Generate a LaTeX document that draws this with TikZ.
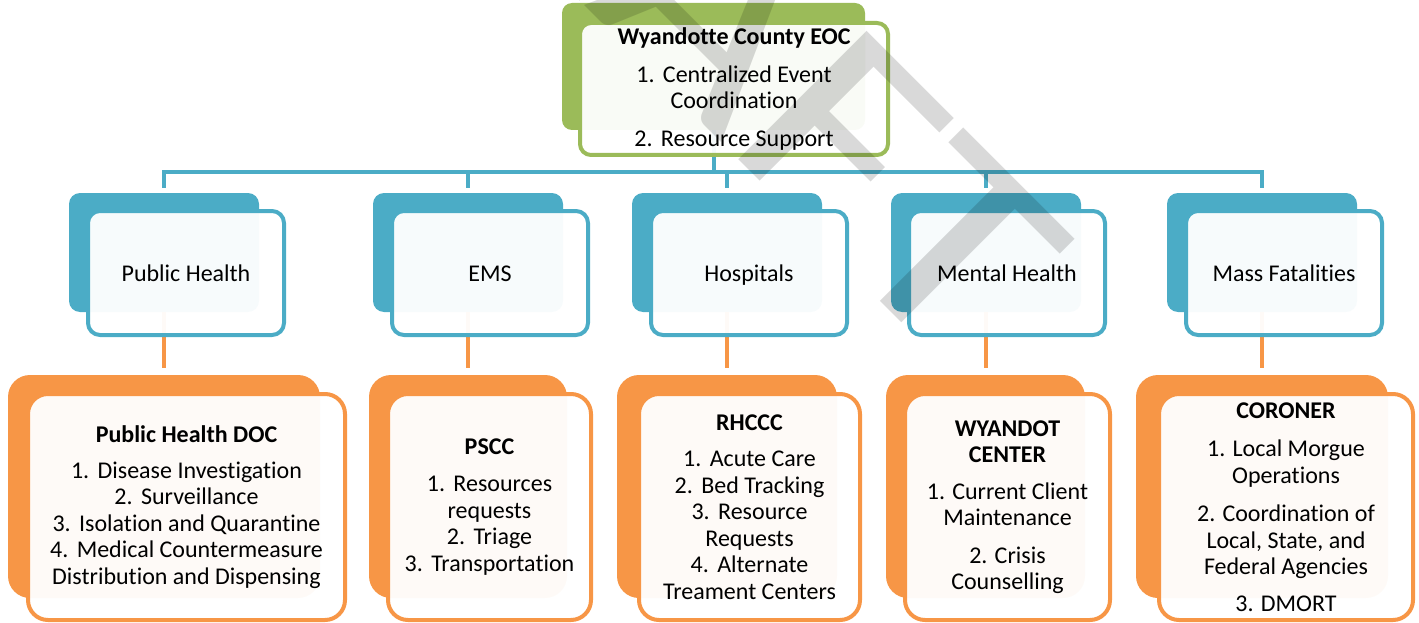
\documentclass[tikz,border=0pt]{standalone}
\usepackage{fontspec}
\setmainfont{Carlito}[Ligatures=NoCommon]
\definecolor{eocgreen}{HTML}{9BBB59}
\definecolor{aqua}{HTML}{4BACC6}
\definecolor{orng}{HTML}{F79646}
\newcommand\Lg{\hspace{0.35em}}
\begin{document}
\begin{tikzpicture}[x=1pt,y=-1pt,
  gback/.style={fill=eocgreen, rounded corners=10pt, minimum width=303pt, minimum height=127pt, inner sep=0pt},
  gfront/.style={draw=eocgreen, line width=4pt, fill=white, fill opacity=0.95, text opacity=1, rounded corners=11pt, minimum width=308pt, minimum height=132pt, inner sep=0pt},
  bback/.style={fill=aqua, rounded corners=11pt, minimum width=190pt, minimum height=119pt, inner sep=0pt},
  bfront/.style={draw=aqua, line width=4pt, fill=white, fill opacity=0.96, text opacity=1, rounded corners=12pt, minimum width=196pt, minimum height=124pt, inner sep=0pt, text height=19pt, text depth=3pt},
  oback/.style={fill=orng, rounded corners=22pt, minimum height=223pt, inner sep=0pt},
  ofront/.style={draw=orng, line width=4pt, fill=white, fill opacity=0.96, text opacity=1, rounded corners=20pt, minimum height=226pt, inner sep=0pt},
  txt/.style={align=center, font=\fontsize{24}{26.5}\selectfont, text=black},
  bconn/.style={draw=aqua, line width=4pt},
  oconn/.style={draw=orng, line width=4.5pt},
  wmark/.style={font=\fontsize{283}{283}\selectfont, text=black, text opacity=0.15, inner sep=0pt}
]
\useasboundingbox (0,0) rectangle (1419,623);

% back shapes
\node[gback] (g0) at (713.5,66.5) {};
\node[bback] (b1) at (164,252.5) {};
\node[bback] (b2) at (468,252.5) {};
\node[bback] (b3) at (727,252.5) {};
\node[bback] (b4) at (986,252.5) {};
\node[bback] (b5) at (1262,252.5) {};
\node[oback, minimum width=312pt] (o1) at (164,486.5) {};
\node[oback, minimum width=198pt] (o2) at (468,486.5) {};
\node[oback, minimum width=220pt] (o3) at (727,486.5) {};
\node[oback, minimum width=199pt] (o4) at (985.5,486.5) {};
\node[oback, minimum width=252pt] (o5) at (1262,486.5) {};

% connectors
\coordinate (bus) at (713.5,172);
\draw[bconn] (g0.south) -- (bus);
\draw[bconn, shorten <=5pt, shorten >=5pt] (b1.north) -- (b1.north |- bus) -- (b5.north |- bus) -- (b5.north);
\draw[bconn, shorten >=5pt] (b2.north |- bus) -- (b2.north);
\draw[bconn, shorten >=5pt] (b3.north |- bus) -- (b3.north);
\draw[bconn, shorten >=5pt] (b4.north |- bus) -- (b4.north);
\foreach \i in {1,...,5}{
  \draw[oconn, shorten >=7pt] (b\i.south) -- (b\i.south |- o\i.north);
}

% front boxes with text
\node[gfront, txt] (g1) at (734,89) {\textbf{Wyandotte County EOC}\\[11pt]1.\Lg Centralized Event\\Coordination\\[11pt]2.\Lg Resource Support};
\node[bfront, txt] (f1) at (186,273) {Public Health};
\node[bfront, txt] (f2) at (490,273) {EMS};
\node[bfront, txt] (f3) at (749,273) {Hospitals};
\node[bfront, txt] (f4) at (1007,273) {Mental Health};
\node[bfront, txt] (f5) at (1284,273) {Mass Fatalities};

\node[ofront, txt, minimum width=317pt] (p1) at (186.5,507) {\textbf{Public Health DOC}\\[9pt]1.\Lg Disease Investigation\\2.\Lg Surveillance\\3.\Lg Isolation and Quarantine\\4.\Lg Medical Countermeasure\\Distribution and Dispensing};
\node[ofront, txt, minimum width=203pt] (p2) at (489.5,507) {\textbf{PSCC}\\[11pt]1.\Lg Resources\\requests\\2.\Lg Triage\\3.\Lg Transportation};
\node[ofront, txt, minimum width=221pt] (p3) at (749.5,507) {\textbf{RHCCC}\\[10pt]1.\Lg Acute Care\\2.\Lg Bed Tracking\\3.\Lg Resource\\Requests\\4.\Lg Alternate\\Treament Centers};
\node[ofront, txt, minimum width=205pt] (p4) at (1007.5,507) {\textbf{WYANDOT}\\\textbf{CENTER}\\[10pt]1. Current Client\\Maintenance\\[11pt]2. Crisis\\Counselling};
\node[ofront, txt, minimum width=254pt] (p5) at (1286,507) {\textbf{CORONER}\\[12pt]1. Local Morgue\\Operations\\[12pt]2. Coordination of\\Local, State, and\\Federal Agencies\\[10pt]3. DMORT};

% watermark
\node[wmark, rotate=-45, xscale=1.2, anchor=base east] (wm) at (950,371) {DRAFT};
\end{tikzpicture}
\end{document}
